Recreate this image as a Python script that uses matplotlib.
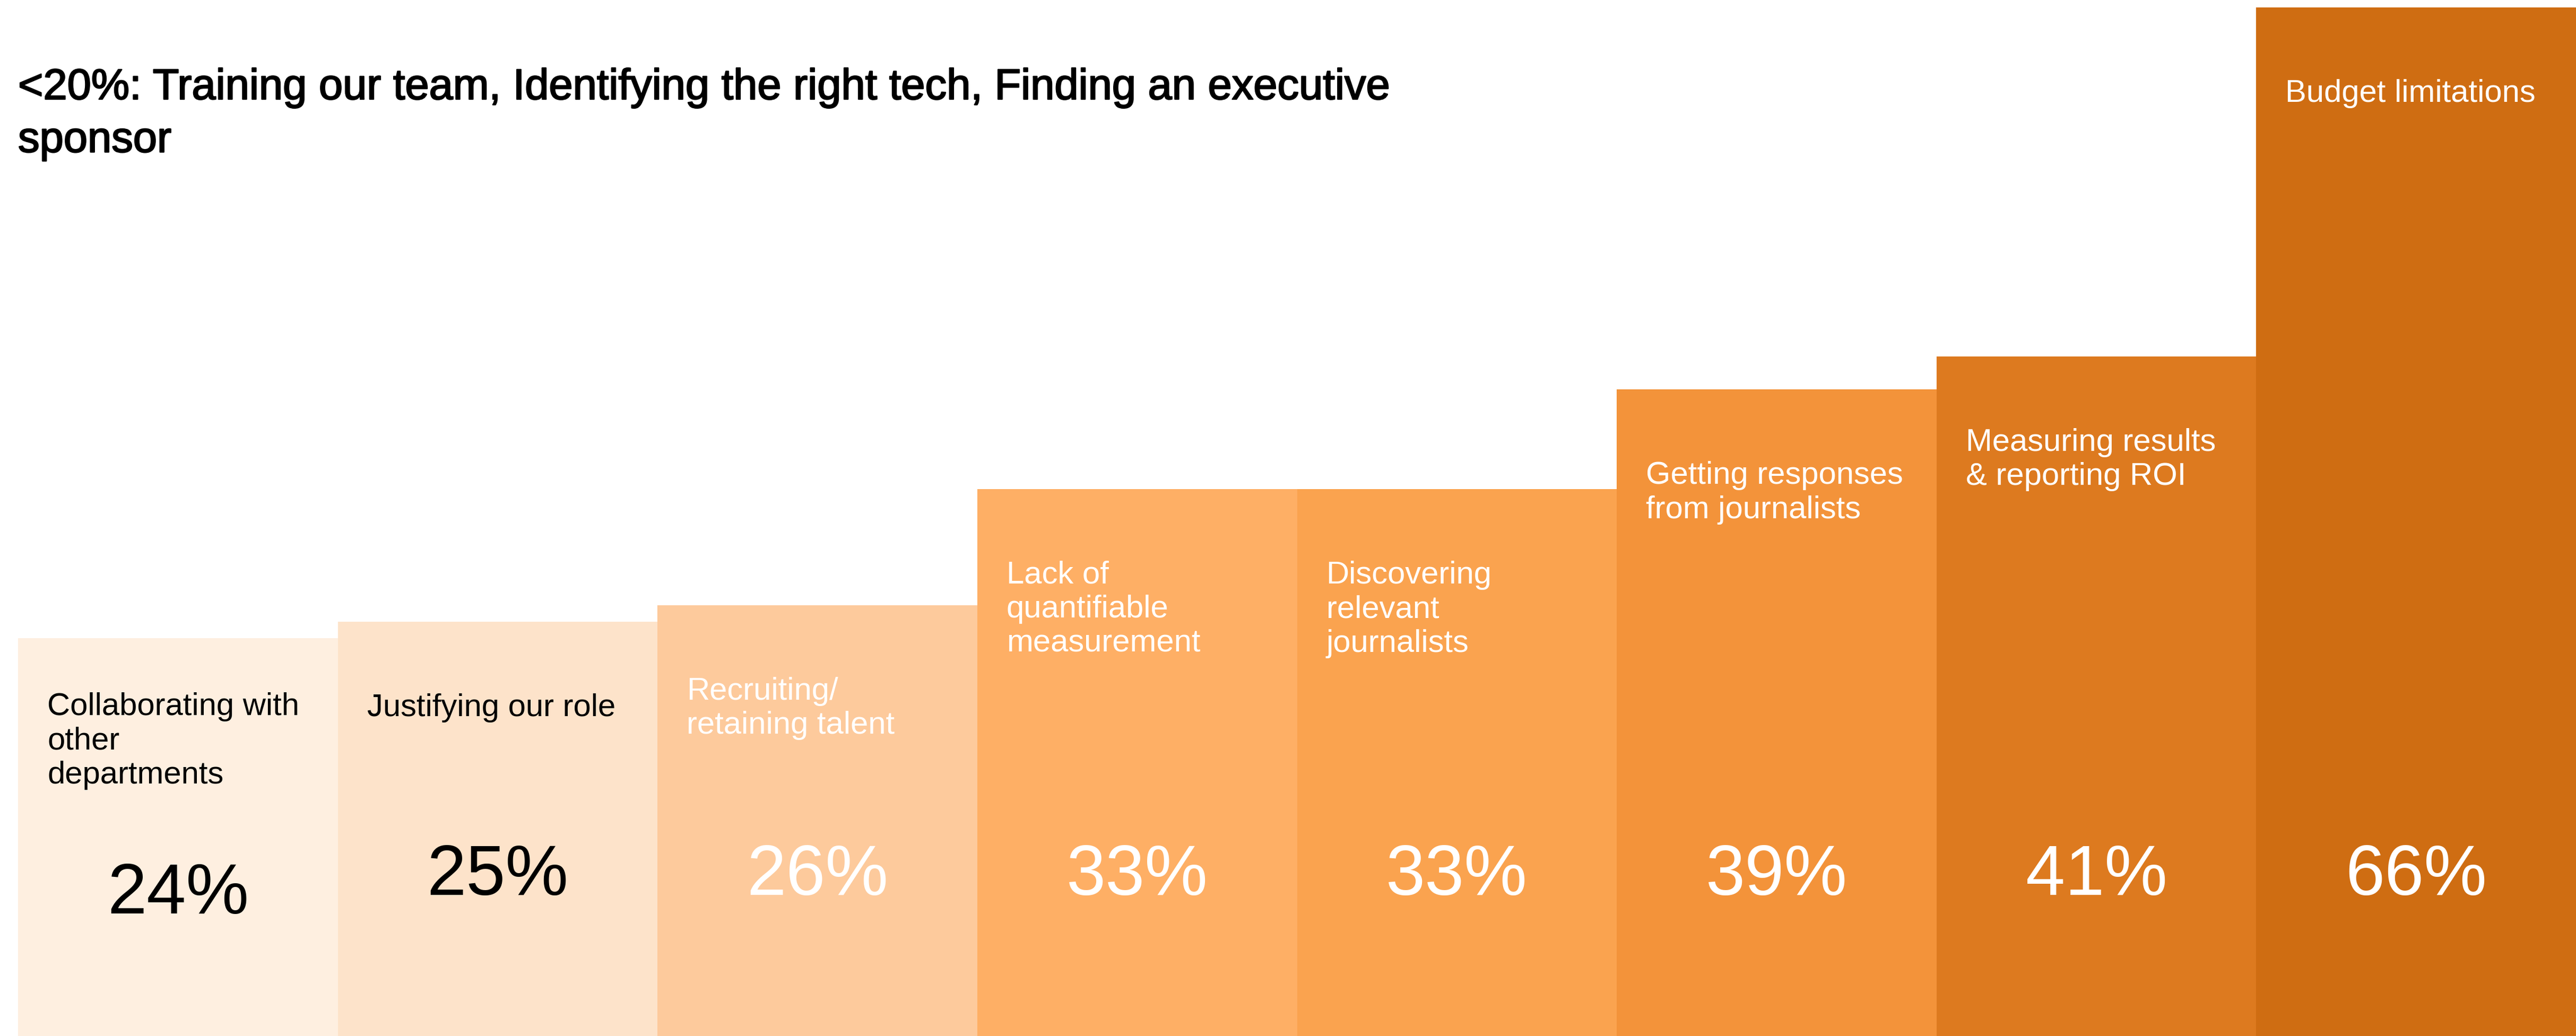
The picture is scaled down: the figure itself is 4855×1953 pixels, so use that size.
import matplotlib
matplotlib.use("Agg")
import matplotlib.pyplot as plt
import matplotlib.patheffects as pe
from matplotlib.transforms import blended_transform_factory

# survey: biggest challenges, share of respondents (%)
challenges = [
    "Collaborating with\nother\ndepartments",
    "Justifying our role",
    "Recruiting/\nretaining talent",
    "Lack of\nquantifiable\nmeasurement",
    "Discovering\nrelevant\njournalists",
    "Getting responses\nfrom journalists",
    "Measuring results\n& reporting ROI",
    "Budget limitations",
]
shares = [24, 25, 26, 33, 33, 39, 41, 66]
value_labels = ["24%", "25%", "26%", "33%", "33%", "39%", "41%", "66%"]
footnote = "<20%: Training our team, Identifying the right tech, Finding an executive\nsponsor"

colors = ["#FEEFE0", "#FDE3CA", "#FDCA9C", "#FEAF65",
          "#FAA34F", "#F3933A", "#DD7A1F", "#CF6D12"]
text_colors = ["black", "black"] + ["white"] * 6

plt.rcParams["font.family"] = ["Liberation Sans", "DejaVu Sans"]

W, H, DPI = 4855, 1953, 100
fig = plt.figure(figsize=(W / DPI, H / DPI), dpi=DPI)
fig.patch.set_facecolor("white")

# axes fills the canvas except a thin strip on the left and top
ax = fig.add_axes([34 / W, 0, 1 - 34 / W, 1939 / H])
ymax = 62.05
ax.set_xlim(0, len(shares))
ax.set_ylim(0, ymax)
ax.axis("off")

x = list(range(len(shares)))
ax.bar(x, shares, width=1.0, align="edge", color=colors, linewidth=0)

# category labels hang from the top of each bar
label_drop = [102] + [135] * 7
for i, (lab, v) in enumerate(zip(challenges, shares)):
    ax.annotate(lab, xy=(i, min(v, ymax)), xytext=(55, -label_drop[i]),
                textcoords="offset pixels", ha="left", va="top",
                fontsize=43, color=text_colors[i], linespacing=1.22,
                annotation_clip=False)

# big percentage labels centred in each bar
trans = blended_transform_factory(ax.transData, fig.transFigure)
value_base = [231] + [266] * 7
for i, lab in enumerate(value_labels):
    ax.text(i + 0.5, value_base[i] / H, lab, transform=trans,
            ha="center", va="baseline", fontsize=96, color=text_colors[i])

# medium-weight note: regular face with a thin same-colour stroke
fig.text(34 / W, 1 - 128 / H, footnote, ha="left", va="top",
         fontsize=58.5, color="black", linespacing=1.4,
         path_effects=[pe.withStroke(linewidth=1.7, foreground="black")])

fig.savefig("out.png", dpi=DPI, facecolor="white")
